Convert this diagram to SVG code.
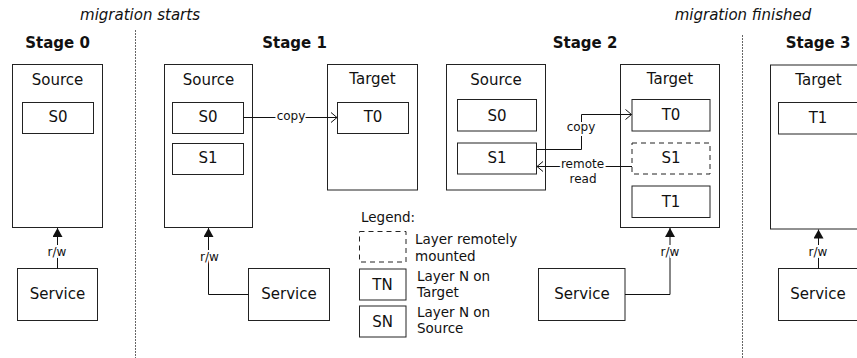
<svg xmlns="http://www.w3.org/2000/svg" width="857" height="358" viewBox="0 0 857 358">
<style>
text{font-family:"DejaVu Sans","Liberation Sans",sans-serif;fill:#111}
.box{fill:#fff;stroke:#222;stroke-width:1}
.dash{fill:#fff;stroke:#222;stroke-width:1;stroke-dasharray:5 4}
.n{font-size:15px;text-anchor:middle}
.t{font-size:15px;font-weight:bold;text-anchor:middle}
.i{font-size:15px;font-style:italic;text-anchor:middle}
.l{font-size:12px;text-anchor:middle;paint-order:stroke;stroke:#fff;stroke-width:4px}
.g{font-size:13.5px}
.c{fill:none;stroke:#111;stroke-width:1}
.div{stroke:#666;stroke-width:1;stroke-dasharray:2 1}
</style>
<defs>
<marker id="fa" markerUnits="userSpaceOnUse" markerWidth="10" markerHeight="10" viewBox="0 0 8 9" refX="8" refY="4.5" orient="auto"><path d="M0,0 L8,4.5 L0,9 z" fill="#111"/></marker>
<marker id="oa" markerUnits="userSpaceOnUse" markerWidth="8" markerHeight="12" viewBox="-1 -1 8 12" refX="6" refY="5" orient="auto"><path d="M0,0 L6,5 L0,10" fill="none" stroke="#111" stroke-width="1"/></marker>
</defs>

<g id="dividers">
<line class="div" x1="135.5" y1="30" x2="135.5" y2="358"/>
<line class="div" x1="742.5" y1="35" x2="742.5" y2="358"/>
</g>
<g id="headings">
<text class="i" x="140" y="20">migration starts</text>
<text class="i" x="743" y="20">migration finished</text>
<text class="t" x="57.5" y="48">Stage 0</text>
<text class="t" x="294.5" y="48">Stage 1</text>
<text class="t" x="585" y="48">Stage 2</text>
<text class="t" x="818" y="48">Stage 3</text>
</g>

<!-- Stage 0 -->
<g id="s0-source"><rect class="box" x="12.5" y="64.5" width="90" height="163"/><text class="n" x="57.5" y="84.5">Source</text></g>
<g id="s0-S0"><rect class="box" x="22.5" y="102.5" width="71" height="31"/><text class="n" x="58" y="122">S0</text></g>
<g id="s0-service"><rect class="box" x="17.5" y="268.5" width="80" height="52"/><text class="n" x="57.5" y="299">Service</text></g>

<!-- Stage 1 -->
<g id="s1-source"><rect class="box" x="164.5" y="64.5" width="88" height="163"/><text class="n" x="208.5" y="84.5">Source</text></g>
<g id="s1-S0"><rect class="box" x="172.5" y="102.5" width="71" height="31"/><text class="n" x="208" y="122">S0</text></g>
<g id="s1-S1"><rect class="box" x="172.5" y="143.5" width="71" height="31"/><text class="n" x="208" y="163">S1</text></g>
<g id="s1-target"><rect class="box" x="327.5" y="64.5" width="90" height="125.5"/><text class="n" x="372.5" y="84">Target</text></g>
<g id="s1-T0"><rect class="box" x="337.5" y="102.5" width="71" height="31"/><text class="n" x="373" y="122">T0</text></g>
<g id="s1-service"><rect class="box" x="248.5" y="268.5" width="81" height="52"/><text class="n" x="289" y="299">Service</text></g>

<!-- Legend -->
<g id="legend">
<text class="g" x="361" y="221.5">Legend:</text>
<rect class="dash" x="359.5" y="231.5" width="46.5" height="30.5"/>
<text class="g" x="415" y="244">Layer remotely</text>
<text class="g" x="415" y="260.5">mounted</text>
<rect class="box" x="359.5" y="269" width="46.5" height="31"/>
<text class="n" x="382.5" y="289.5">TN</text>
<text class="g" x="417" y="280.5">Layer N on</text>
<text class="g" x="417" y="296.5">Target</text>
<rect class="box" x="359.5" y="306" width="46.5" height="31"/>
<text class="n" x="382.5" y="327">SN</text>
<text class="g" x="417" y="316.5">Layer N on</text>
<text class="g" x="417" y="332.5">Source</text>
</g>

<!-- Stage 2 -->
<g id="s2-source"><rect class="box" x="446.5" y="64.5" width="99" height="125.5"/><text class="n" x="496" y="84.5">Source</text></g>
<g id="s2-S0"><rect class="box" x="457.5" y="99.5" width="79" height="31.5"/><text class="n" x="497" y="120.5">S0</text></g>
<g id="s2-S1"><rect class="box" x="457.5" y="143" width="79" height="31"/><text class="n" x="497" y="163">S1</text></g>
<g id="s2-target"><rect class="box" x="620.5" y="64.5" width="99" height="163"/><text class="n" x="670" y="84">Target</text></g>
<g id="s2-T0"><rect class="box" x="632" y="99.5" width="78" height="31.5"/><text class="n" x="671" y="120">T0</text></g>
<g id="s2-S1r"><rect class="dash" x="632" y="143" width="78" height="31"/><text class="n" x="671" y="163">S1</text></g>
<g id="s2-T1"><rect class="box" x="632" y="186" width="78" height="31.5"/><text class="n" x="671" y="206.5">T1</text></g>
<g id="s2-service"><rect class="box" x="538.5" y="268.5" width="86.5" height="52"/><text class="n" x="582" y="299">Service</text></g>

<!-- Stage 3 -->
<g id="s3-target"><rect class="box" x="770.5" y="65" width="100" height="164"/><text class="n" x="818.5" y="84.5">Target</text></g>
<g id="s3-T1"><rect class="box" x="778.5" y="102.5" width="80" height="31.5"/><text class="n" x="818" y="122.5">T1</text></g>
<g id="s3-service"><rect class="box" x="778.5" y="268.5" width="80" height="52"/><text class="n" x="818" y="299">Service</text></g>

<g id="connectors">
<path class="c" d="M57.5,268.5 V228" marker-end="url(#fa)"/>
<text class="l" x="57" y="256">r/w</text>
<path class="c" d="M248.5,294.5 H208.5 V228" marker-end="url(#fa)"/>
<text class="l" x="209.5" y="260.5">r/w</text>
<path class="c" d="M243.5,117.5 H337" marker-end="url(#oa)"/>
<text class="l" x="291" y="120">copy</text>
<path class="c" d="M536.5,149.5 H581.5 V114.5 H631.5" marker-end="url(#oa)"/>
<text class="l" x="581" y="131">copy</text>
<path class="c" d="M632,166.5 H537" marker-end="url(#oa)"/>
<text class="l" x="582.5" y="168">remote</text>
<text class="l" x="583" y="183">read</text>
<path class="c" d="M625,294.5 H670 V228" marker-end="url(#fa)"/>
<text class="l" x="670" y="255.5">r/w</text>
<path class="c" d="M818.5,268.5 V229.5" marker-end="url(#fa)"/>
<text class="l" x="818" y="255.5">r/w</text>
</g>
</svg>
